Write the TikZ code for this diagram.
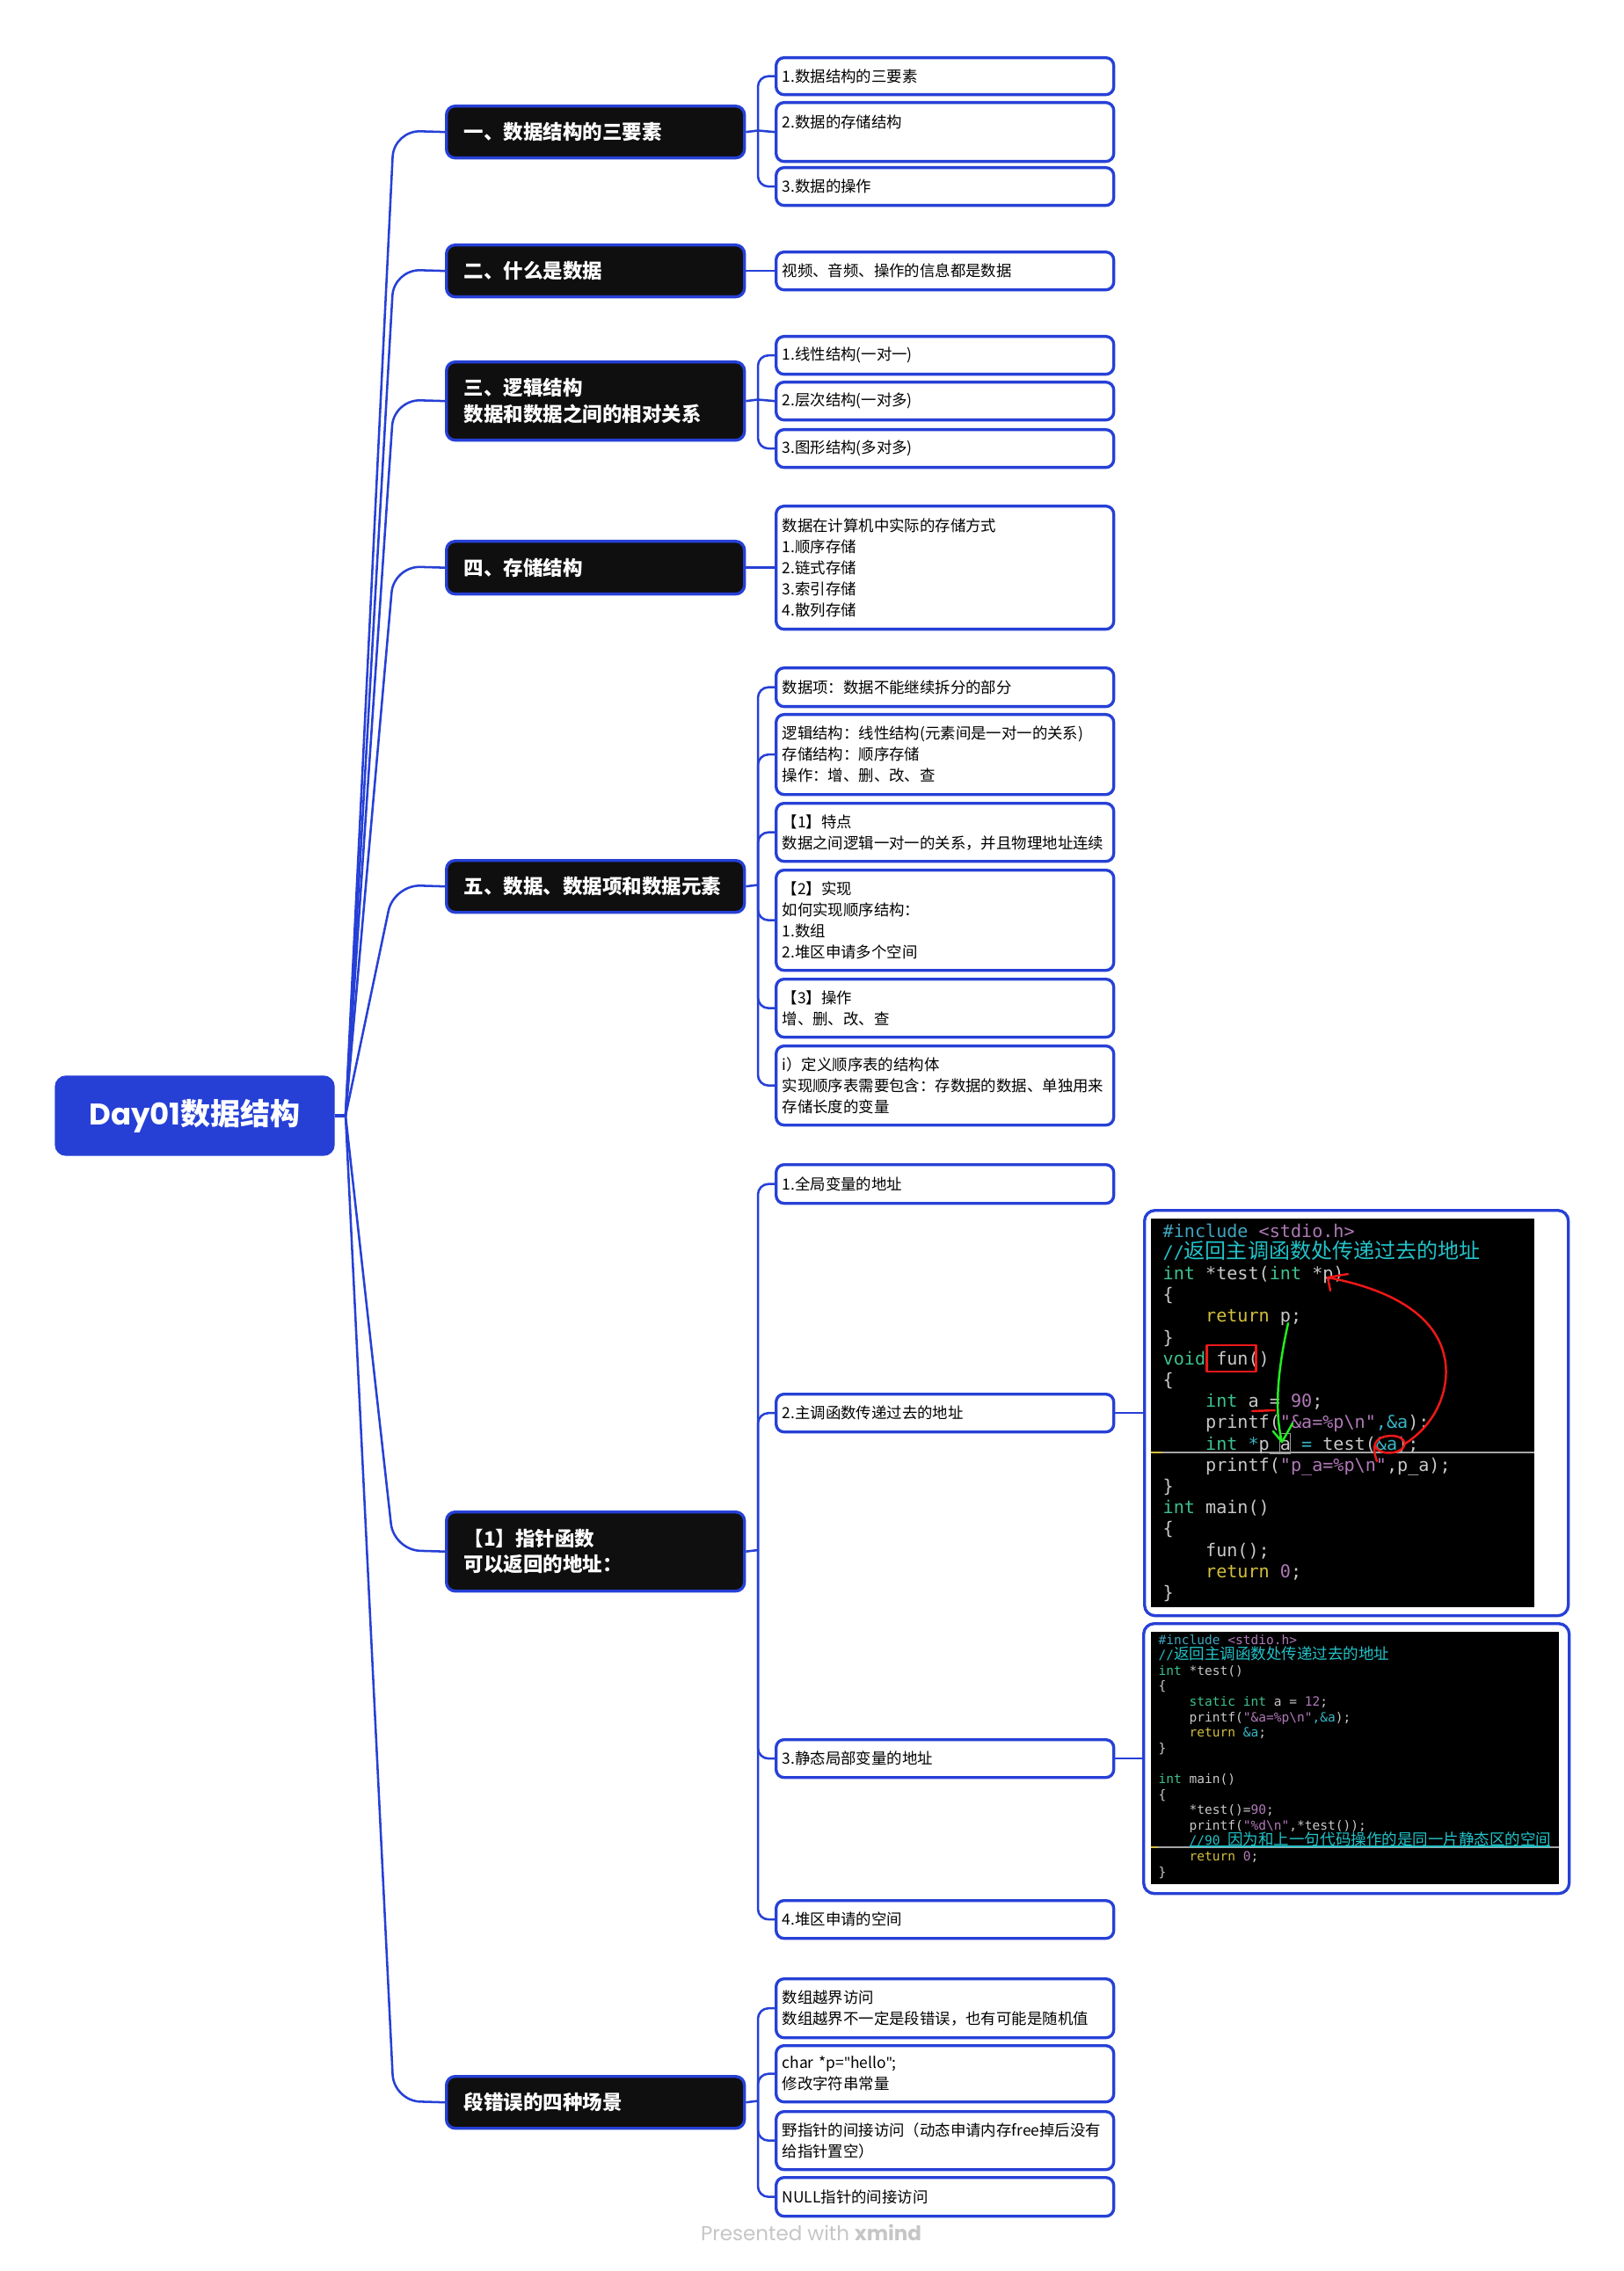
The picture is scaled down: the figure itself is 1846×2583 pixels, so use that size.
\documentclass[tikz,border=0pt]{standalone}
\usepackage{fontspec}
\setmainfont{Noto Sans CJK SC}
\setmonofont{DejaVu Sans Mono}
\newfontfamily\popfont{Poppins}
\newfontfamily\cjkcode{Noto Sans CJK SC}
\newfontfamily\plainlat{Noto Sans}
\newdimen\pxu \pxu=0.01cm
\definecolor{xblue}{HTML}{2640D6}
\definecolor{xblack}{HTML}{0F0F10}
\definecolor{cinc}{HTML}{3FA6BF}
\definecolor{cstr}{HTML}{B07AB8}
\definecolor{ccom}{HTML}{22C3C9}
\definecolor{ctyp}{HTML}{3DC28E}
\definecolor{cret}{HTML}{D4C03C}
\definecolor{cdef}{HTML}{C9C9C9}
\definecolor{camp}{HTML}{37B6C4}
\definecolor{annred}{HTML}{F01818}
\definecolor{anngreen}{HTML}{22EE22}
\definecolor{footgray}{HTML}{C6C6C6}
\newcommand\kidfnt{\fontsize{4.95pt}{6.83pt}\selectfont}
\newcommand\mainfnt{\bfseries\fontsize{6.4pt}{8.42pt}\selectfont}
\newcommand\rootfnt{\fontsize{9.67pt}{11pt}\selectfont}
\newcommand\codeAfnt{\ttfamily\fontsize{5.72pt}{6.89pt}\selectfont}
\newcommand\codeBfnt{\ttfamily\fontsize{4.13pt}{5.0pt}\selectfont}
\newcommand\czA[1]{{\cjkcode\fontsize{6.83pt}{6.89pt}\selectfont #1}}
\newcommand\czB[1]{{\cjkcode\fontsize{4.98pt}{5.0pt}\selectfont #1}}
\newcommand\tk[2]{\textcolor{#1}{#2}}
\newcommand\codesp{\hphantom{0}}
\newcommand\codeind{\hphantom{0000}}
\tikzset{
  conn/.style={draw=xblue, line width=0.72pt},
  mainbox/.style={draw=xblue, fill=xblack, line width=0.95pt, rounded corners=10\pxu,
    text=white, font=\mainfnt, anchor=north west, text width=299\pxu,
    inner xsep=20\pxu, inner ysep=0pt, align=left},
  kid/.style={draw=xblue, fill=white, line width=0.95pt, rounded corners=9\pxu,
    text=black, font=\kidfnt, anchor=north west, text width=370\pxu,
    inner xsep=7\pxu, inner ysep=0pt, align=left},
  codeframe/.style={draw=xblue, fill=white, line width=0.95pt, rounded corners=12\pxu,
    anchor=north west, inner sep=0pt},
  cA/.style={anchor=base west, inner sep=0pt, font=\codeAfnt, text=cdef},
  cB/.style={anchor=base west, inner sep=0pt, font=\codeBfnt, text=cdef},
  redann/.style={draw=annred, line width=0.7pt, line cap=round, line join=round},
  greenann/.style={draw=anngreen, line width=0.7pt, line cap=round, line join=round},
}
\begin{document}
\begin{tikzpicture}[x=0.01cm, y=-0.01cm]
\fill[white] (0,0) rectangle (1846,2583);
\useasboundingbox (0,0) rectangle (1846,2583);

% root
\node[draw=xblue, fill=xblue, rounded corners=12\pxu, minimum width=317\pxu,
  minimum height=90\pxu, text=white, font=\rootfnt, inner sep=0pt]
  (root) at (221.5,1269) {{\popfont\bfseries Day01}{\bfseries 数据结构}};
\coordinate (J) at (393,1269);

% main boxes
\node[mainbox, minimum height=59\pxu] (B1) at (506,119) {一、数据结构的三要素};
\node[mainbox, minimum height=59\pxu] (B2) at (506,277) {二、什么是数据};
\node[mainbox, minimum height=89\pxu] (B3) at (506,410) {三、逻辑结构\\数据和数据之间的相对关系};
\node[mainbox, minimum height=60\pxu] (B4) at (506,614) {四、存储结构};
\node[mainbox, minimum height=59\pxu] (B5) at (506,977) {五、数据、数据项和数据元素};
\node[mainbox, minimum height=90\pxu] (B6) at (506,1718) {【1】指针函数\\可以返回的地址：};
\node[mainbox, minimum height=59\pxu] (B7) at (506,2360) {段错误的四种场景};

% children
\node[kid, minimum height=42\pxu] (c1) at (881,64) {1.数据结构的三要素};
\node[kid, minimum height=67\pxu] (c2) at (881,115) {2.数据的存储结构\\\mbox{}};
\node[kid, minimum height=43\pxu] (c3) at (881,189) {3.数据的操作};
\node[kid, minimum height=43\pxu] (c4) at (881,285) {视频、音频、操作的信息都是数据};
\node[kid, minimum height=43\pxu] (c5) at (881,381) {1.线性结构(一对一)};
\node[kid, minimum height=43\pxu] (c6) at (881,433) {2.层次结构(一对多)};
\node[kid, minimum height=43\pxu] (c7) at (881,487) {3.图形结构(多对多)};
\node[kid, minimum height=140\pxu] (c8) at (881,574) {数据在计算机中实际的存储方式\\1.顺序存储\\2.链式存储\\3.索引存储\\4.散列存储};
\node[kid, minimum height=44\pxu] (c9) at (881,758) {数据项：数据不能继续拆分的部分};
\node[kid, minimum height=91\pxu] (c10) at (881,811) {逻辑结构：线性结构(元素间是一对一的关系)\\存储结构：顺序存储\\操作：增、删、改、查};
\node[kid, minimum height=66\pxu] (c11) at (881,912) {【1】特点\\数据之间逻辑一对一的关系，并且物理地址连续};
\node[kid, minimum height=114\pxu] (c12) at (881,988) {【2】实现\\如何实现顺序结构：\\1.数组\\2.堆区申请多个空间};
\node[kid, minimum height=66\pxu] (c13) at (881,1112) {【3】操作\\增、删、改、查};
\node[kid, minimum height=90\pxu] (c14) at (881,1188) {i）定义顺序表的结构体\\实现顺序表需要包含：存数据的数据、单独用来\\存储长度的变量};
\node[kid, minimum height=44\pxu] (c15) at (881,1323) {1.全局变量的地址};
\node[kid, minimum height=43\pxu] (c16) at (881,1584) {2.主调函数传递过去的地址};
\node[kid, minimum height=43\pxu] (c17) at (881,1977) {3.静态局部变量的地址};
\node[kid, minimum height=43\pxu] (c18) at (881,2160) {4.堆区申请的空间};
\node[kid, minimum height=67\pxu] (c19) at (881,2249) {数组越界访问\\数组越界不一定是段错误，也有可能是随机值};
\node[kid, minimum height=64\pxu] (c20) at (881,2325) {char *p={\plainlat\symbol{34}}hello{\plainlat\symbol{34}};\\修改字符串常量};
\node[kid, minimum height=66\pxu] (c21) at (881,2400) {野指针的间接访问（动态申请内存free掉后没有\\给指针置空）};
\node[kid, minimum height=44\pxu] (c22) at (881,2475) {NULL指针的间接访问};

% root connectors
\draw[conn, line width=0.9pt] (root.east) -- (J);
\foreach \b/\yy in {B1/148.5, B2/306.5, B3/454.5, B4/644, B5/1006.5, B6/1763, B7/2389.5}{
  \draw[conn, rounded corners=30\pxu] (J) -- (448,\yy) -- (\b.west);
}

% child connectors
\draw[conn] (B1.east) -- (862,148.5) -- (c2.west);
\draw[conn, rounded corners=12\pxu] (862,148.5) |- (c1.west);
\draw[conn, rounded corners=12\pxu] (862,148.5) |- (c3.west);
\draw[conn] (B2.east) -- (c4.west);
\draw[conn] (B3.east) -- (862,454.5) -- (c6.west);
\draw[conn, rounded corners=12\pxu] (862,454.5) |- (c5.west);
\draw[conn, rounded corners=12\pxu] (862,454.5) |- (c7.west);
\draw[conn] (B4.east) -- (c8.west);
\draw[conn] (B5.east) -- (862,1006.5);
\foreach \c in {c9,c10,c11,c12,c13,c14}{
  \draw[conn, rounded corners=12\pxu] (862,1006.5) |- (\c.west);
}
\draw[conn] (B6.east) -- (862,1763);
\foreach \c in {c15,c16,c17,c18}{
  \draw[conn, rounded corners=12\pxu] (862,1763) |- (\c.west);
}
\draw[conn] (B7.east) -- (862,2389.5);
\foreach \c in {c19,c20,c21,c22}{
  \draw[conn, rounded corners=12\pxu] (862,2389.5) |- (\c.west);
}

% code frames
\node[codeframe, minimum width=482\pxu, minimum height=461\pxu] (cb1) at (1300,1375) {};
\node[codeframe, minimum width=484\pxu, minimum height=307\pxu] (cb2) at (1299,1845) {};
\draw[conn] (c16.east) -- (cb1.west);
\draw[conn] (c17.east) -- (cb2.west);

% code screenshot 1
\fill[black] (1309,1386) rectangle (1745,1828);
\draw[gray!70, line width=0.3pt] (1309,1652) -- (1745,1652);
\draw[cret, line width=0.4pt] (1309,1652) -- (1322,1652);
\draw[gray!80, line width=0.25pt] (1455,1630) rectangle (1467,1653);
\node[cA] (k1) at (1322,1407.0) {\tk{cinc}{\#include}\codesp\tk{cstr}{<stdio.h>}};
\node[cA] (k2) at (1322,1431.2) {\tk{ccom}{//\czA{返回主调函数处传递过去的地址}}};
\node[cA] (k3) at (1322,1455.4) {\tk{ctyp}{int}\codesp *test(\tk{ctyp}{int}\codesp *p)};
\node[cA] (k4) at (1322,1479.6) {\{};
\node[cA] (k5) at (1322,1503.8) {\codeind\tk{cret}{return}\codesp p;};
\node[cA] (k6) at (1322,1528.0) {\}};
\node[cA] (k7) at (1322,1552.2) {\tk{ctyp}{void}\codesp fun()};
\node[cA] (k8) at (1322,1576.4) {\{};
\node[cA] (k9) at (1322,1600.6) {\codeind\tk{ctyp}{int}\codesp a\codesp=\codesp\tk{cstr}{90};};
\node[cA] (k10) at (1322,1624.8) {\codeind printf(\tk{cstr}{"\&a=\%p\textbackslash n"}\tk{camp}{,\&a});};
\node[cA] (k11) at (1322,1649.0) {\codeind\tk{ctyp}{int}\codesp\tk{camp}{*}p\_a\codesp\tk{camp}{=}\codesp test(\tk{camp}{\&a});};
\node[cA] (k12) at (1322,1673.2) {\codeind printf(\tk{cstr}{"p\_a=\%p\textbackslash n"},p\_a);};
\node[cA] (k13) at (1322,1697.4) {\}};
\node[cA] (k14) at (1322,1721.6) {\tk{ctyp}{int}\codesp main()};
\node[cA] (k15) at (1322,1745.8) {\{};
\node[cA] (k16) at (1322,1770.0) {\codeind fun();};
\node[cA] (k17) at (1322,1794.2) {\codeind\tk{cret}{return}\codesp\tk{cstr}{0};};
\node[cA] (k18) at (1322,1818.4) {\}};

% annotations on screenshot 1
\draw[redann] (1372.7,1530) rectangle (1428.3,1560);
\draw[redann] (1598,1642) .. controls (1640,1615) and (1650,1570) .. (1642,1540)
  .. controls (1632,1500) and (1590,1468) .. (1510,1453);
\draw[redann] (1533,1449) -- (1510,1453) -- (1513,1468);
\draw[redann] (1566,1662) .. controls (1560,1645) and (1562,1634) .. (1582,1633)
  .. controls (1600,1633) and (1604,1648) .. (1585,1652)
  .. controls (1575,1654) and (1566,1650) .. (1564,1645);
\draw[redann] (1424,1605) -- (1450,1604);
\draw[greenann] (1465,1505) .. controls (1455,1550) and (1448,1600) .. (1458,1640);
\draw[greenann] (1448,1628) -- (1458,1640) -- (1470,1619);

% code screenshot 2
\fill[black] (1309,1856) rectangle (1773,2143);
\draw[gray!70, line width=0.3pt] (1309,2101) -- (1773,2101);
\draw[cret, line width=0.4pt] (1309,2101) -- (1317,2101);
\draw[ccom, line width=0.3pt] (1353,2100) -- (1763,2100);
\node[cB] (m1) at (1317,1870.0) {\tk{cinc}{\#include}\codesp\tk{cstr}{<stdio.h>}};
\node[cB] (m2) at (1317,1887.6) {\tk{ccom}{//\czB{返回主调函数处传递过去的地址}}};
\node[cB] (m3) at (1317,1905.2) {\tk{ctyp}{int}\codesp *test()};
\node[cB] (m4) at (1317,1922.8) {\{};
\node[cB] (m5) at (1317,1940.4) {\codeind\tk{ctyp}{static}\codesp\tk{ctyp}{int}\codesp a\codesp=\codesp\tk{cstr}{12};};
\node[cB] (m6) at (1317,1958.0) {\codeind printf(\tk{cstr}{"\&a=\%p\textbackslash n"}\tk{camp}{,\&a});};
\node[cB] (m7) at (1317,1975.6) {\codeind\tk{cret}{return}\codesp\tk{camp}{\&a};};
\node[cB] (m8) at (1317,1993.2) {\}};
\node[cB] (m10) at (1317,2028.4) {\tk{ctyp}{int}\codesp main()};
\node[cB] (m11) at (1317,2046.0) {\{};
\node[cB] (m12) at (1317,2063.6) {\codeind *test()=\tk{cstr}{90};};
\node[cB] (m13) at (1317,2081.2) {\codeind printf(\tk{cstr}{"\%d\textbackslash n"},*test());};
\node[cB] (m14) at (1317,2098.8) {\codeind\tk{ccom}{//90\codesp\czB{因为和上一句代码操作的是同一片静态区的空间}}};
\node[cB] (m15) at (1317,2116.4) {\codeind\tk{cret}{return}\codesp\tk{cstr}{0};};
\node[cB] (m16) at (1317,2134.0) {\}};

% footer
\node[anchor=base, inner sep=0pt, text=footgray, font=\fontsize{6.54pt}{8pt}\selectfont]
  (foot) at (922.5,2548) {{\popfont Presented with }{\popfont\bfseries xmind}};
\end{tikzpicture}
\end{document}
